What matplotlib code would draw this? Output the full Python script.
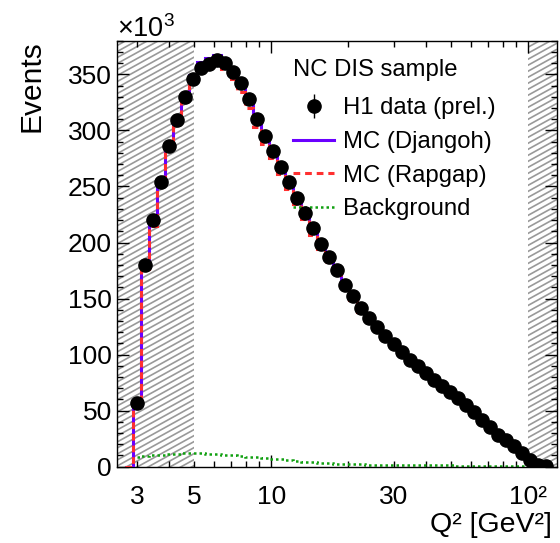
import numpy as np
import matplotlib
matplotlib.use("Agg")
import matplotlib.pyplot as plt
from matplotlib.lines import Line2D
from matplotlib.collections import LineCollection
from matplotlib.patches import Rectangle
from matplotlib.ticker import FixedLocator, FuncFormatter, MultipleLocator

plt.rcParams["font.family"] = ["Liberation Sans", "DejaVu Sans"]
plt.rcParams["mathtext.fontset"] = "custom"
plt.rcParams["mathtext.rm"] = "Liberation Sans"
plt.rcParams["mathtext.it"] = "Liberation Sans:italic"
plt.rcParams["mathtext.bf"] = "Liberation Sans:bold"

# Q^2 binning (log-uniform), first bin is empty
q2_lo, q2_hi, n_bins = 2.69, 122.0, 53
bin_edges = np.geomspace(q2_lo, q2_hi, n_bins + 1)

# events per bin, in units of 10^3
data_events = [57, 180, 220, 254, 286, 309, 329.5, 346, 356, 359.5, 363, 360,
               352, 342, 328, 310, 295, 281.5, 267, 254, 240, 226.5, 212.5, 199,
               187.5, 175.6, 162.2, 152.4, 141.7, 132.8, 124.7, 116.4, 109.5, 102.7,
               95.5, 89.6, 83.6, 77.1, 71.7, 66.4, 61, 54.8, 48.5, 42, 35.1, 28.6,
               23.8, 18.1, 12.2, 6, 1.5, 0.3]
mc_djangoh = [0, 55, 178, 220, 256, 288, 310, 332, 349, 361, 365, 367, 363, 355,
              343, 330, 312, 297, 283, 268, 255, 241, 227, 213, 200, 188, 176, 163,
              153, 142, 133, 125, 117, 110, 103, 96, 90, 84, 77.5, 72, 66.5, 61, 55,
              48.5, 42, 35, 28.5, 23.5, 18, 12, 6, 1.5, 0.3]
mc_rapgap = [0, 54, 176, 215, 252, 285, 307, 328, 344, 353, 357, 359, 355, 346,
             334, 320, 303, 288, 275, 261, 248, 234, 221, 207, 194, 183, 171, 158,
             149, 138, 130, 122, 114, 107, 101, 94, 88, 82, 76, 71, 65.5, 60, 54, 48,
             41.5, 34.5, 28, 23, 17.5, 11.8, 5.8, 1.4, 0.3]
background = [0, 8.5, 9.5, 10, 10.5, 11, 11.5, 12, 12.5, 12, 11.5, 11, 10.5, 10,
              9.5, 9, 8.5, 8, 7.3, 6.5, 5.8, 5, 4.5, 4, 3.5, 3, 2.7, 2.4, 2.2, 2,
              1.9, 1.8, 1.7, 1.6, 1.5, 1.4, 1.3, 1.2, 1.2, 1.1, 1.1, 1.0, 1.0, 0.9,
              0.9, 0.8, 0.8, 0.7, 0.7, 0.6, 0.6, 0.5, 0.5]

# excluded Q^2 regions (hatched)
excluded = [(2.5, 5.0), (100.0, 130.0)]

x_major = [10, 100]
x_minor = [3, 4, 5, 6, 7, 8, 9, 20, 30, 40, 50, 60, 70, 80, 90]
x_labels = {3: "3", 5: "5", 10: "10", 30: "30", 100: "10²"}


def hatch_band(ax, x0, x1):
    slope = 0.57
    segs = [[(0, c), (1, c + slope)] for c in np.arange(-1.0, 1.0, 0.0141)]
    lc = LineCollection(segs, colors="#999999", linewidths=1.2,
                        transform=ax.transAxes, zorder=0.5)
    ax.add_collection(lc, autolim=False)
    clip = Rectangle((x0, 0), x1 - x0, 1, transform=ax.get_xaxis_transform())
    lc.set_clip_path(clip)


fig = plt.figure(figsize=(5.6, 5.43), dpi=100)
ax = fig.add_axes([0.2084, 0.1405, 0.7862, 0.7845])
ax.set_xscale("log")
ax.set_xlim(2.5, 130)
ax.set_ylim(0, 380)

for lo, hi in excluded:
    hatch_band(ax, lo, hi)

centers = np.sqrt(bin_edges[1:-1] * bin_edges[2:])
data = np.array(data_events)
err = np.sqrt(data * 1e3) / 1e3

ax.stairs(background, bin_edges, color="#10a010", lw=1.8,
          linestyle=(0, (1, 1.2)), zorder=2)
ax.stairs(mc_djangoh, bin_edges, color="#6a00ff", lw=2.2, zorder=3)
ax.stairs(mc_rapgap, bin_edges, color="#ff3030", lw=2.2,
          linestyle=(0, (2.2, 1.6)), zorder=4)
h_data = ax.errorbar(centers, data, yerr=err, fmt="o", color="black", ms=9.5,
                     elinewidth=1.0, capsize=0, zorder=5)

# legend: header as plain text, entries below
ax.text(0.4004, 0.931, "NC DIS sample", transform=ax.transAxes,
        fontsize=17.2, ha="left", va="center")
h_dj = Line2D([], [], color="#6a00ff", lw=2.2)
h_rg = Line2D([], [], color="#ff3030", lw=2.2, linestyle=(0, (2.2, 1.6)))
h_bg = Line2D([], [], color="#10a010", lw=1.8, linestyle=(0, (1, 1.2)))
ax.legend([h_data, h_dj, h_rg, h_bg],
          ["H1 data (prel.)", "MC (Djangoh)", "MC (Rapgap)", "Background"],
          loc="upper left", bbox_to_anchor=(0.4004, 0.867),
          frameon=False, fontsize=17.2, handlelength=1.72,
          handletextpad=0.36, labelspacing=0.49, borderpad=0, borderaxespad=0)

# axes, ticks
ax.xaxis.set_major_locator(FixedLocator(x_major))
ax.xaxis.set_minor_locator(FixedLocator(x_minor))
fmt = FuncFormatter(lambda v, pos: x_labels.get(int(round(v)), ""))
ax.xaxis.set_major_formatter(fmt)
ax.xaxis.set_minor_formatter(fmt)
ax.yaxis.set_major_locator(MultipleLocator(50))
ax.yaxis.set_minor_locator(MultipleLocator(10))
ax.tick_params(which="both", direction="in", top=True, right=True,
               labelsize=19, width=1.0)
ax.tick_params(which="major", length=8.6)
ax.tick_params(which="minor", length=4.5)
ax.tick_params(axis="x", which="both", pad=13)
ax.tick_params(axis="y", which="both", pad=3.6)
for s in ax.spines.values():
    s.set_linewidth(1.0)

ax.annotate(r"$\times10^{3}$", xy=(0, 1), xycoords="axes fraction",
            xytext=(0, 2.7), textcoords="offset points", fontsize=19.5,
            ha="left", va="baseline")
ax.annotate("Events", xy=(0, 1), xycoords="axes fraction",
            xytext=(-61, 0), textcoords="offset points", fontsize=21.5,
            rotation=90, ha="center", va="top")
ax.annotate("Q² [GeV²]", xy=(1, 0), xycoords="axes fraction",
            xytext=(-3.6, -47), textcoords="offset points", fontsize=20.5,
            ha="right", va="baseline")

fig.savefig("out.png", dpi=100)
